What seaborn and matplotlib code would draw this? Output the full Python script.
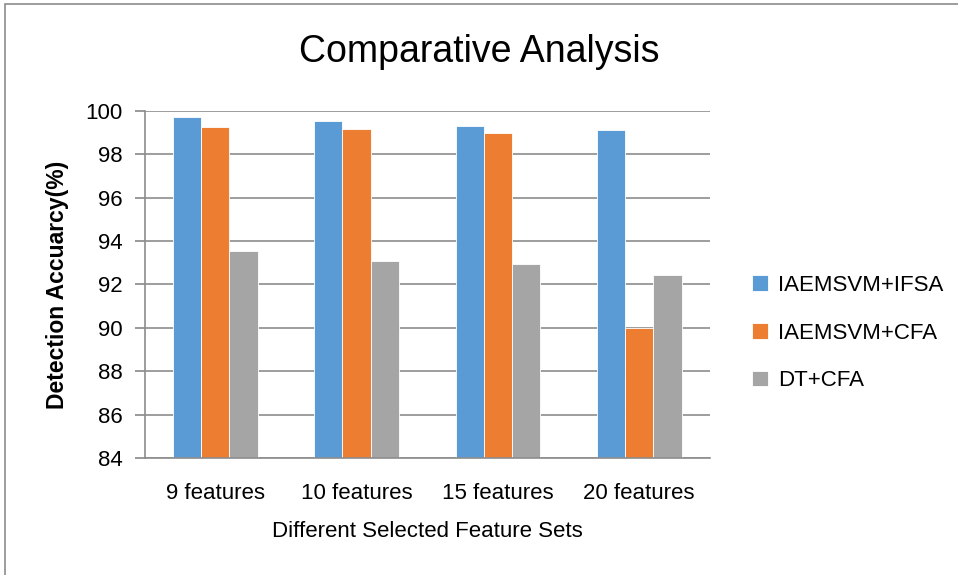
import pandas as pd
import matplotlib.pyplot as plt
import seaborn as sns
from matplotlib.patches import Rectangle

# values
feature_sets = ["9 features", "10 features", "15 features", "20 features"]
methods = ["IAEMSVM+IFSA", "IAEMSVM+CFA", "DT+CFA"]
iaemsvm_ifsa = [99.7, 99.55, 99.3, 99.1]
iaemsvm_cfa = [99.25, 99.15, 99.0, 90.0]
dt_cfa = [93.55, 93.1, 92.95, 92.45]
colors = ["#5B9BD5", "#ED7D31", "#A5A5A5"]

rows = []
for m, vals in zip(methods, [iaemsvm_ifsa, iaemsvm_cfa, dt_cfa]):
    for f, v in zip(feature_sets, vals):
        rows.append({"Feature Set": f, "Method": m, "Accuracy": v})
df = pd.DataFrame(rows)

sns.set_theme(style="white")
plt.rcParams["font.family"] = ["Liberation Sans", "DejaVu Sans"]
plt.rcParams["text.color"] = "black"
plt.rcParams["axes.labelcolor"] = "black"

fig = plt.figure(figsize=(9.58, 5.75), dpi=100)
ax = fig.add_axes([0.151, 0.2035, 0.590, 0.6035])

sns.barplot(data=df, x="Feature Set", y="Accuracy", hue="Method",
            palette=colors, width=0.6, ax=ax, saturation=1,
            edgecolor="white", linewidth=0.6)

ax.set_ylim(84, 100)
ax.set_yticks(range(84, 101, 2))
ax.yaxis.grid(True, color="#8c8c8c", linewidth=1.2)
ax.set_axisbelow(True)
for s in ["top", "right"]:
    ax.spines[s].set_visible(False)
ax.spines["left"].set_color("#8c8c8c")
ax.spines["bottom"].set_color("#8c8c8c")
ax.spines["left"].set_linewidth(1.2)
ax.spines["bottom"].set_linewidth(1.2)
ax.tick_params(axis="y", left=True, length=7, color="#8c8c8c", labelsize=16, pad=9,
               labelcolor="black")
ax.tick_params(axis="x", bottom=False, labelsize=16, pad=12, labelcolor="black")

ax.set_xlabel("Different Selected Feature Sets", fontsize=16, labelpad=12)
ax.set_ylabel("Detection Accuarcy(%)", fontsize=16.5, fontweight="bold", labelpad=12)
fig.suptitle("Comparative Analysis", fontsize=27, y=0.94, x=0.5)

ax.legend(loc="center left", bbox_to_anchor=(1.04, 0.36), frameon=False,
          fontsize=16, handlelength=0.7, handleheight=0.7, labelspacing=1.2,
          handletextpad=0.45)

fig.patches.append(Rectangle((0.005, -0.01), 1.0, 1.003, transform=fig.transFigure,
                             fill=False, edgecolor="#8c8c8c", linewidth=1.2))

fig.savefig("out.png", dpi=100)
